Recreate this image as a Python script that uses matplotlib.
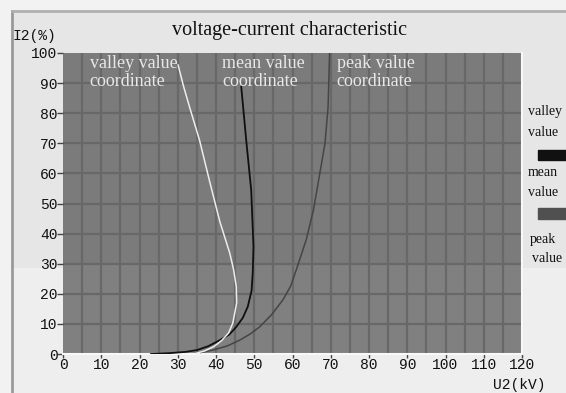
import matplotlib
matplotlib.use("Agg")
import matplotlib.pyplot as plt
from matplotlib.patches import Rectangle
from matplotlib.lines import Line2D

# ---- data ----
x_ticks = [0, 10, 20, 30, 40, 50, 60, 70, 80, 90, 100, 110, 120]
y_ticks = [0, 10, 20, 30, 40, 50, 60, 70, 80, 90, 100]

valley_u = [35, 37, 39.5, 41.5, 43.3, 44.4, 45.4, 45.3, 44.6, 43.6, 41.0, 38.4, 35.7, 33.1, 31.5, 30.1]
valley_i = [0.3, 1.0, 2.5, 4.5, 7.0, 10.3, 17, 22.4, 28, 33.5, 44, 57, 71, 82, 89, 96]

mean_u = [23, 28, 32, 35, 38, 41, 43.5, 45.3, 47.0, 48.3, 49.3, 49.6, 49.8, 49.2, 47.9, 46.6]
mean_i = [0, 0.3, 0.7, 1.3, 2.6, 4.6, 6.5, 9, 12, 15.7, 21, 26.8, 35.6, 54.5, 71, 88.8]

peak_u = [36, 39.2, 43, 46.2, 49, 51.4, 54.5, 57.5, 59.5, 61, 63.6, 65.5, 67, 68.5, 69.3, 69.7]
peak_i = [0.5, 1.3, 2.7, 4.6, 6.7, 9, 13, 18, 22.5, 28, 38, 48, 59, 70, 82, 100]

title = "voltage-current characteristic"

W, H = 566, 393
fig = plt.figure(figsize=(W / 100, H / 100), dpi=100)
fig.patch.set_facecolor("#f2f2f2")

def fx(px):
    return px / W

def fy(py):
    return 1 - py / H

# background panels
fig.patches.append(Rectangle((fx(12), fy(268)), fx(566 - 12), (268 - 12) / H,
                             transform=fig.transFigure, color="#e6e6e6", zorder=-10))
fig.patches.append(Rectangle((fx(12), 0), fx(566 - 12), fy(268),
                             transform=fig.transFigure, color="#eeeeee", zorder=-10))
fig.lines.append(Line2D([fx(12), fx(12)], [0, fy(11)], transform=fig.transFigure,
                        color="#9a9a9a", lw=2))
fig.lines.append(Line2D([fx(12), 1], [fy(11), fy(11)], transform=fig.transFigure,
                        color="#b0b0b0", lw=2))

ax = fig.add_axes([fx(63), fy(354), fx(522 - 63), (354 - 53) / H])
ax.set_facecolor("#7b7b7b")
ax.axhspan(0, 30, color="#808080", zorder=0)
ax.set_xlim(0, 120)
ax.set_ylim(0, 100)

for v in range(5, 120, 5):
    ax.axvline(v, color="#686868", lw=1.6, zorder=1)
for h in range(10, 100, 10):
    ax.axhline(h, color="#686868", lw=1.6, zorder=1)

ax.plot(peak_u, peak_i, color="#454545", lw=1.1, zorder=3)
ax.plot(mean_u, mean_i, color="#101010", lw=1.3, zorder=4)
ax.plot(valley_u, valley_i, color="#ececec", lw=1.1, zorder=5)

for s in ["top", "left"]:
    ax.spines[s].set_visible(False)
for s in ["bottom", "right"]:
    ax.spines[s].set_color("#f8f8f8")
    ax.spines[s].set_linewidth(1.5)

mono = "Liberation Mono"
ax.set_xticks(x_ticks)
ax.set_yticks(y_ticks)
ax.set_xticklabels([str(t) for t in x_ticks], fontfamily=mono, fontsize=10.5, color="#111111")
ax.set_yticklabels([str(t) for t in y_ticks], fontfamily=mono, fontsize=10.5, color="#111111")
ax.tick_params(axis="x", length=3, width=1, pad=0, color="#444444", direction="out")
ax.tick_params(axis="y", length=4, width=1, pad=0, color="#444444", direction="out")

serif = "Liberation Serif"
fig.text(fx(290), fy(30), title, ha="center", va="center", fontfamily=serif,
         fontsize=14.5, color="#111111")
fig.text(fx(13), fy(36), "I2(%)", ha="left", va="center", fontfamily=mono,
         fontsize=10.5, color="#111111")
fig.text(fx(545), fy(385), "U2(kV)", ha="right", va="center", fontfamily=mono,
         fontsize=10.5, color="#111111")

lab_kw = dict(ha="left", va="top", fontfamily=serif, fontsize=13, color="#e8e8e8",
              linespacing=1.08, zorder=6)
ax.text(7.0, 99.2, "valley value\ncoordinate", **lab_kw)
ax.text(41.6, 99.2, "mean value\ncoordinate", **lab_kw)
ax.text(71.6, 99.2, "peak value\ncoordinate", **lab_kw)

leg_kw = dict(ha="left", va="center", fontfamily=serif, fontsize=10, color="#111111")
fig.text(fx(528), fy(111), "valley", **leg_kw)
fig.text(fx(528), fy(132), "value", **leg_kw)
fig.patches.append(Rectangle((fx(538), fy(160)), fx(566 - 538), 10 / H,
                             transform=fig.transFigure, color="#111111"))
fig.text(fx(528), fy(172), "mean", **leg_kw)
fig.text(fx(528), fy(193), "value", **leg_kw)
fig.patches.append(Rectangle((fx(538), fy(219)), fx(566 - 538), 11 / H,
                             transform=fig.transFigure, color="#505050"))
fig.text(fx(530), fy(240), "peak", **leg_kw)
fig.text(fx(532), fy(259), "value", **leg_kw)

fig.savefig("out.png", dpi=100, facecolor=fig.get_facecolor())
